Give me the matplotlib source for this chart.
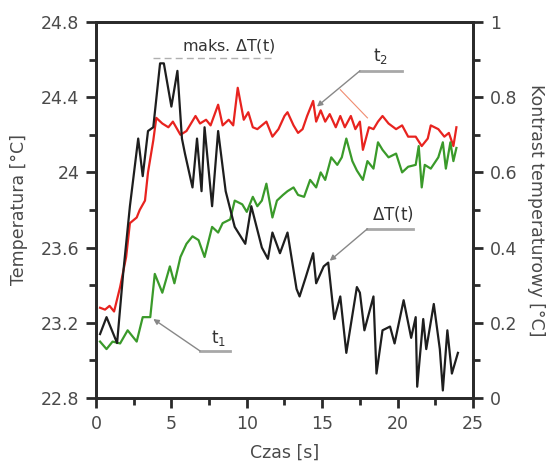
import matplotlib.pyplot as plt
from matplotlib.ticker import MultipleLocator

plt.rcParams['font.family'] = ['DejaVu Sans']
plt.rcParams['mathtext.default'] = 'regular'

# t2 - red, left axis [°C]
t2_time = [0.27, 0.6, 0.9, 1.2, 1.6, 2.0, 2.25, 2.7, 2.9, 3.25, 3.45, 3.8, 4.0, 4.4, 4.8, 5.1,
           5.6, 6.0, 6.6, 6.9, 7.3, 7.6, 8.1, 8.4, 8.8, 9.1, 9.4, 9.8, 10.1, 10.4, 10.7, 11.0,
           11.3, 11.7, 12.1, 12.5, 12.7, 13.1, 13.4, 13.7, 14.0, 14.4, 14.6, 14.9, 15.2, 15.5,
           15.9, 16.2, 16.5, 16.9, 17.2, 17.5, 17.7, 18.1, 18.4, 18.7, 19.0, 19.4, 19.9, 20.3,
           20.7, 21.2, 21.6, 22.0, 22.2, 22.7, 23.1, 23.4, 23.7, 23.9]
t2_temp = [23.28, 23.27, 23.29, 23.26, 23.39, 23.55, 23.73, 23.76, 23.80, 23.85, 24.00, 24.17,
           24.29, 24.26, 24.24, 24.27, 24.20, 24.22, 24.30, 24.26, 24.28, 24.25, 24.36, 24.25,
           24.28, 24.25, 24.45, 24.28, 24.32, 24.24, 24.23, 24.25, 24.27, 24.19, 24.23, 24.30,
           24.32, 24.25, 24.21, 24.23, 24.30, 24.38, 24.27, 24.33, 24.27, 24.31, 24.24, 24.30,
           24.24, 24.30, 24.23, 24.27, 24.12, 24.24, 24.23, 24.27, 24.30, 24.26, 24.23, 24.25,
           24.19, 24.19, 24.14, 24.18, 24.25, 24.23, 24.19, 24.21, 24.14, 24.24]

# t1 - green, left axis [°C]
t1_time = [0.27, 0.7, 1.1, 1.6, 2.1, 2.7, 3.1, 3.6, 3.9, 4.4, 4.9, 5.2, 5.6, 6.0, 6.4, 6.8,
           7.2, 7.7, 8.1, 8.4, 8.9, 9.2, 9.7, 10.0, 10.4, 10.7, 11.0, 11.3, 11.7, 12.0, 12.4,
           12.7, 13.1, 13.4, 13.8, 14.2, 14.6, 14.9, 15.2, 15.6, 16.0, 16.3, 16.6, 17.0, 17.3,
           17.7, 18.0, 18.4, 18.7, 19.0, 19.4, 19.9, 20.3, 20.7, 21.2, 21.4, 21.6, 21.8, 22.2,
           22.7, 23.0, 23.2, 23.5, 23.7, 23.9]
t1_temp = [23.10, 23.06, 23.10, 23.09, 23.16, 23.10, 23.23, 23.23, 23.46, 23.36, 23.50, 23.41,
           23.55, 23.62, 23.66, 23.64, 23.55, 23.71, 23.68, 23.73, 23.75, 23.85, 23.83, 23.79,
           23.87, 23.82, 23.85, 23.94, 23.76, 23.85, 23.88, 23.90, 23.92, 23.88, 23.87, 23.96,
           23.92, 24.00, 23.96, 24.08, 24.04, 24.08, 24.18, 24.06, 24.01, 23.96, 24.06, 24.02,
           24.16, 24.12, 24.08, 24.10, 24.00, 24.03, 24.04, 24.14, 23.92, 24.04, 24.02, 24.08,
           24.16, 24.02, 24.16, 24.06, 24.13]

# delta T - black, right axis [°C]
dt_time = [0.27, 0.7, 1.4, 1.8, 2.25, 2.8, 3.1, 3.45, 3.8, 4.25, 4.5, 5.0, 5.4, 5.7, 5.9,
           6.4, 6.7, 7.0, 7.2, 7.7, 8.1, 8.6, 9.2, 9.9, 10.3, 11.0, 11.4, 11.7, 12.2, 12.7,
           13.3, 13.5, 13.9, 14.4, 14.6, 15.1, 15.4, 15.8, 16.2, 16.6, 17.3, 17.5, 17.8, 18.4,
           18.6, 19.0, 19.5, 19.8, 20.4, 20.9, 21.2, 21.3, 21.7, 21.9, 22.4, 22.8, 23.0, 23.3,
           23.6, 24.0]
dt_val = [0.17, 0.215, 0.146, 0.33, 0.51, 0.69, 0.59, 0.71, 0.72, 0.89, 0.89, 0.775, 0.87,
          0.69, 0.65, 0.56, 0.69, 0.55, 0.72, 0.51, 0.71, 0.55, 0.455, 0.41, 0.51, 0.40, 0.37,
          0.44, 0.385, 0.44, 0.29, 0.27, 0.32, 0.385, 0.305, 0.35, 0.36, 0.21, 0.27, 0.12,
          0.295, 0.28, 0.18, 0.27, 0.065, 0.18, 0.19, 0.145, 0.26, 0.16, 0.215, 0.03, 0.21,
          0.13, 0.25, 0.13, 0.02, 0.18, 0.065, 0.12]

x_ticks = [0, 5, 10, 15, 20, 25]
y_left_ticks = [22.8, 23.2, 23.6, 24, 24.4, 24.8]
y_left_labels = ['22.8', '23.2', '23.6', '24', '24.4', '24.8']
y_right_ticks = [0, 0.2, 0.4, 0.6, 0.8, 1]
y_right_labels = ['0', '0.2', '0.4', '0.6', '0.8', '1']

txt = '#4a4a4a'
fig = plt.figure(figsize=(5.5, 4.61), dpi=100)
ax = fig.add_axes([0.1745, 0.1367, 0.6855, 0.8156])
ax2 = ax.twinx()

ax.plot(t2_time, t2_temp, color='#e8231f', lw=1.6, zorder=3)
ax.plot(t1_time, t1_temp, color='#3a9a2a', lw=1.6, zorder=3)
ax2.plot(dt_time, dt_val, color='#1e1e1e', lw=1.6, zorder=3)

ax.set_xlim(0, 25)
ax.set_ylim(22.8, 24.8)
ax2.set_ylim(0, 1)
ax.set_xticks(x_ticks)
ax.set_yticks(y_left_ticks)
ax.set_yticklabels(y_left_labels)
ax2.set_yticks(y_right_ticks)
ax2.set_yticklabels(y_right_labels)
ax.xaxis.set_minor_locator(MultipleLocator(2.5))
ax.yaxis.set_minor_locator(MultipleLocator(0.2))
ax2.yaxis.set_minor_locator(MultipleLocator(0.1))

for a in (ax, ax2):
    for s in a.spines.values():
        s.set_linewidth(2)
        s.set_color('#2a2a2a')
    a.tick_params(which='major', length=7, width=2, color='#2a2a2a', labelsize=12.5,
                  labelcolor=txt, direction='out', pad=5)
    a.tick_params(which='minor', length=5, width=2, color='#2a2a2a', direction='out')

ax.set_xlabel('Czas [s]', fontsize=12.5, color=txt, labelpad=8)
ax.set_ylabel('Temperatura [°C]', fontsize=12.5, color=txt, labelpad=9)
ax2.set_ylabel('Kontrast temperaturowy [°C]', fontsize=12.5, color=txt, rotation=-90,
               labelpad=20)

# annotations
gray = '#a8a8a8'
arrow = dict(arrowstyle='-|>', color='#888888', lw=1, mutation_scale=8,
             shrinkA=0, shrinkB=0)
ax.plot([3.8, 11.8], [24.61, 24.61], color='#b0b0b0', lw=1, ls=(0, (5, 3)))
ax.text(5.7, 24.67, 'maks. $\\Delta$T(t)', fontsize=11.5, color='#333333', va='center')

ax.text(18.4, 24.62, '$t_2$', fontsize=12, color='#333333', va='center')
ax.plot([17.5, 20.3], [24.54, 24.54], color=gray, lw=2)
ax.annotate('', xy=(14.65, 24.35), xytext=(17.5, 24.54), arrowprops=arrow)
ax.plot([16.2, 18.0], [24.44, 24.29], color='#f08c70', lw=0.8)

ax.text(18.3, 23.78, '$\\Delta$T(t)', fontsize=12, color='#333333', va='center')
ax.plot([18.0, 21.0], [23.70, 23.70], color=gray, lw=2)
ax.annotate('', xy=(15.5, 23.53), xytext=(18.0, 23.70), arrowprops=arrow)

ax.text(7.6, 23.12, '$t_1$', fontsize=12, color='#333333', va='center')
ax.plot([6.9, 8.9], [23.05, 23.05], color=gray, lw=2)
ax.annotate('', xy=(3.8, 23.22), xytext=(6.9, 23.05), arrowprops=arrow)

fig.savefig('out.png', dpi=100)
